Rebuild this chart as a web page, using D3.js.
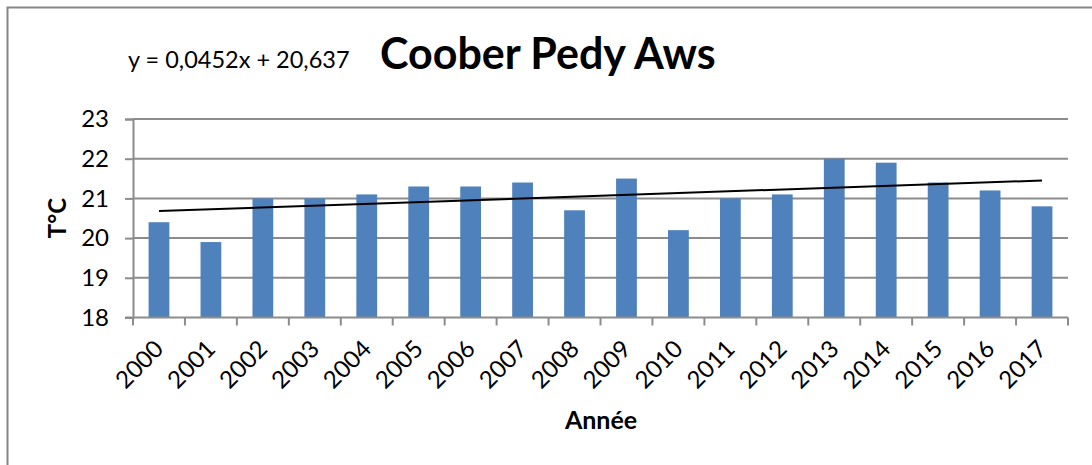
<!DOCTYPE html>
<html>
<head>
<meta charset="utf-8">
<script src="https://cdn.jsdelivr.net/npm/d3@7"></script>
<style>
  body { margin: 0; background: #fff; }
  text { font-family: Lato, "Open Sans", sans-serif; fill: #000; }
</style>
</head>
<body>
<svg id="chart" width="1092" height="465"></svg>
<script>
// ## DATA ##
const years = ["2000", "2001", "2002", "2003", "2004", "2005", "2006", "2007", "2008",
  "2009", "2010", "2011", "2012", "2013", "2014", "2015", "2016", "2017"]
const temps = [20.4, 19.9, 21.0, 21.0, 21.1, 21.3, 21.3, 21.4, 20.7,
  21.5, 20.2, 21.0, 21.1, 22.0, 21.9, 21.4, 21.2, 20.8]
const yTicks = [18, 19, 20, 21, 22, 23]
// trend line as printed on the chart
const trendSlope = 0.0452
const trendIntercept = 20.637
const trendLabel = "y = 0,0452x + 20,637"
const title = "Coober Pedy Aws"

// ## CANVAS ##
const svg = d3.select("#chart")
const plot = { left: 133, right: 1068, top: 119, bottom: 317.5 }

// outer chart frame (only top and left edges are inside the picture)
svg.append("rect")
  .attr("x", 7.5).attr("y", 7.5)
  .attr("width", 1200).attr("height", 600)
  .attr("fill", "none")
  .attr("stroke", "#868686")
  .attr("stroke-width", 2)

const x = d3.scaleBand()
  .domain(years)
  .range([plot.left, plot.right])
  .paddingInner(0.6)
  .paddingOuter(0.3)

const y = d3.scaleLinear()
  .domain([18, 23])
  .range([plot.bottom, plot.top])

// gridlines
svg.append("g")
  .selectAll("line")
  .data(yTicks.slice(1))
  .enter().append("line")
  .attr("x1", plot.left).attr("x2", plot.right)
  .attr("y1", d => y(d)).attr("y2", d => y(d))
  .attr("stroke", "#8c8c8c")
  .attr("stroke-width", 2)

// bars
svg.append("g")
  .selectAll("rect")
  .data(temps)
  .enter().append("rect")
  .attr("x", (d, i) => x(years[i]))
  .attr("width", x.bandwidth())
  .attr("y", d => y(d))
  .attr("height", d => y(18) - y(d))
  .attr("fill", "#4f81bd")

// y axis
const yAxis = svg.append("g")
  .attr("transform", `translate(${plot.left},0)`)
  .call(d3.axisLeft(y).tickValues(yTicks).tickSize(8).tickPadding(16).tickFormat(d3.format("d")))
yAxis.select(".domain").attr("stroke", "#8c8c8c").attr("stroke-width", 2)
yAxis.selectAll(".tick line").attr("stroke", "#8c8c8c").attr("stroke-width", 2)
yAxis.selectAll(".tick text")
  .style("font-size", "24px")
  .attr("fill", "#000")

// x axis: ticks sit on the category boundaries
const step = x.step()
const boundaries = years.map((d, i) => plot.left + i * step).concat([plot.right])
const xAxis = svg.append("g")
svg.append("line")
  .attr("x1", plot.left - 8).attr("x2", plot.right)
  .attr("y1", plot.bottom).attr("y2", plot.bottom)
  .attr("stroke", "#8c8c8c").attr("stroke-width", 2)
xAxis.selectAll("line")
  .data(boundaries)
  .enter().append("line")
  .attr("x1", d => d).attr("x2", d => d)
  .attr("y1", plot.bottom).attr("y2", plot.bottom + 8)
  .attr("stroke", "#8c8c8c").attr("stroke-width", 2)

xAxis.selectAll("text")
  .data(years)
  .enter().append("text")
  .attr("text-anchor", "end")
  .attr("transform", d => `translate(${x(d) + x.bandwidth() / 2 + 6},${plot.bottom + 33}) rotate(-45)`)
  .style("font-size", "24px")
  .text(d => d)

// trend line from first to last category centre
const centre = (i) => x(years[i]) + x.bandwidth() / 2
svg.append("line")
  .attr("x1", centre(0))
  .attr("y1", y(trendIntercept + trendSlope * 1))
  .attr("x2", centre(years.length - 1))
  .attr("y2", y(trendIntercept + trendSlope * years.length))
  .attr("stroke", "#000")
  .attr("stroke-width", 2)

// titles
svg.append("text")
  .attr("x", 380).attr("y", 69)
  .style("font-size", "43px")
  .style("font-weight", "bold")
  .text(title)

svg.append("text")
  .attr("x", 128).attr("y", 68)
  .style("font-size", "23.5px")
  .text(trendLabel)

svg.append("text")
  .attr("x", 601).attr("y", 429)
  .attr("text-anchor", "middle")
  .style("font-size", "25px")
  .style("font-weight", "bold")
  .text("Année")

svg.append("text")
  .attr("transform", "translate(66,218) rotate(-90)")
  .attr("text-anchor", "middle")
  .style("font-size", "24px")
  .style("font-weight", "bold")
  .text("T°C")
</script>
</body>
</html>
